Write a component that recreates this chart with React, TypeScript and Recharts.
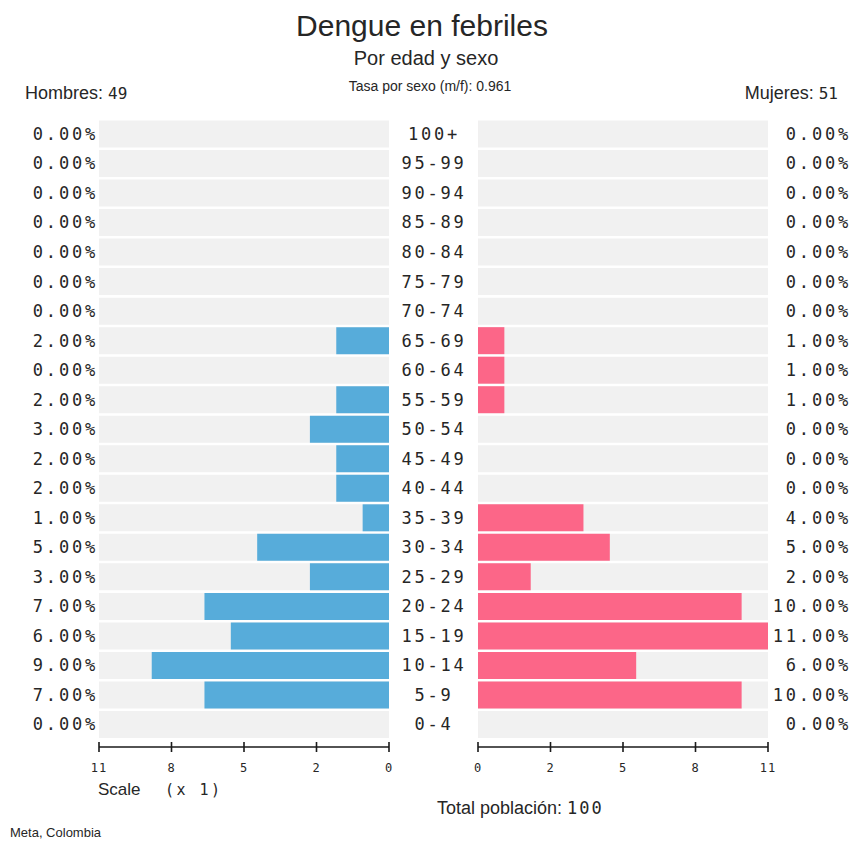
import React from 'react';
import { BarChart, Bar, XAxis, YAxis } from 'recharts';

// Age groups, top to bottom
const ageGroups = ['100+', '95-99', '90-94', '85-89', '80-84', '75-79', '70-74', '65-69', '60-64', '55-59', '50-54', '45-49', '40-44', '35-39', '30-34', '25-29', '20-24', '15-19', '10-14', '5-9', '0-4'];
const maleValues = [0, 0, 0, 0, 0, 0, 0, 2, 0, 2, 3, 2, 2, 1, 5, 3, 7, 6, 9, 7, 0];
const femaleValues = [0, 0, 0, 0, 0, 0, 0, 1, 1, 1, 0, 0, 0, 4, 5, 2, 10, 11, 6, 10, 0];
const axisTicks = [0, 2.75, 5.5, 8.25, 11];
const axisTickLabels = ['0', '2', '5', '8', '11'];
const axisMax = 11;

const data = ageGroups.map((age, i) => ({ age, male: maleValues[i], female: femaleValues[i] }));
const maleLabels: Record<string, string> = {};
const femaleLabels: Record<string, string> = {};
ageGroups.forEach((a, i) => {
  maleLabels[a] = maleValues[i].toFixed(2) + '%';
  femaleLabels[a] = femaleValues[i].toFixed(2) + '%';
});

const MONO = '"DejaVu Sans Mono", monospace';
const SANS = '"Liberation Sans", Arial, sans-serif';
const TXT = '#262626';
const BLUE = '#57acda';
const PINK = '#fc6688';
const BAND = '#f1f1f1';

const TOP = 119;
const PLOT_H = 628;
const XAXIS_H = 40;
const CH_H = TOP + PLOT_H + XAXIS_H;
const MONO_SIZE = 17;
const MONO_LS = '2.8px';

const LeftPctTick = (props: any) => {
  const { x, y, payload } = props;
  return (
    <text x={x - 1} y={y} dy="0.36em" textAnchor="end" fontFamily={MONO} fontSize={MONO_SIZE} fill={TXT} style={{ letterSpacing: MONO_LS }}>
      {maleLabels[payload.value]}
    </text>
  );
};

const RightPctTick = (props: any) => {
  const { x, y, payload } = props;
  return (
    <text x={x + 83} y={y} dy="0.36em" textAnchor="end" fontFamily={MONO} fontSize={MONO_SIZE} fill={TXT} style={{ letterSpacing: MONO_LS }}>
      {femaleLabels[payload.value]}
    </text>
  );
};

const AgeTick = (props: any) => {
  const { x, y, payload } = props;
  return (
    <text x={x + 45} y={y} dy="0.36em" textAnchor="middle" fontFamily={MONO} fontSize={MONO_SIZE} fill={TXT} style={{ letterSpacing: MONO_LS }}>
      {payload.value}
    </text>
  );
};

const ScaleTick = (props: any) => {
  const { x, y, payload } = props;
  const idx = axisTicks.indexOf(payload.value);
  return (
    <g>
      <line x1={x} x2={x} y1={y - 5} y2={y + 5} stroke="#1a1a1a" strokeWidth={1.6} />
      <text x={x} y={y + 25} textAnchor="middle" fontFamily={MONO} fontSize={12} fill={TXT} style={{ letterSpacing: '1px' }}>
        {axisTickLabels[idx]}
      </text>
    </g>
  );
};

export default function App() {
  return (
    <div style={{ position: 'absolute', left: 0, top: 0, width: 857, height: 842, background: '#fff', overflow: 'hidden' }}>
      <div style={{ position: 'absolute', left: 0, top: 0 }}>
        <BarChart layout="vertical" width={478} height={CH_H} data={data} margin={{ top: TOP, right: 0, bottom: 0, left: 0 }} barCategoryGap={1.5}>
          <XAxis type="number" domain={[0, axisMax]} reversed ticks={axisTicks} interval={0} height={XAXIS_H} tickSize={0} tickMargin={0} tickLine={false} axisLine={{ stroke: '#1a1a1a', strokeWidth: 1.6 }} tick={<ScaleTick />} allowDataOverflow />
          <YAxis yAxisId="pct" type="category" dataKey="age" orientation="left" width={99} padding={{ top: 0, bottom: 8 }} tickSize={0} tickMargin={0} tickLine={false} axisLine={false} tick={<LeftPctTick />} interval={0} />
          <YAxis yAxisId="age" type="category" dataKey="age" orientation="right" width={89} padding={{ top: 0, bottom: 8 }} tickSize={0} tickMargin={0} tickLine={false} axisLine={false} tick={<AgeTick />} interval={0} />
          <Bar yAxisId="pct" dataKey="male" fill={BLUE} background={{ fill: BAND }} minPointSize={0.01} isAnimationActive={false} />
        </BarChart>
      </div>
      <div style={{ position: 'absolute', left: 390, top: 0 }}>
        <BarChart layout="vertical" width={467} height={CH_H} data={data} margin={{ top: TOP, right: 0, bottom: 0, left: 88 }} barCategoryGap={1.5}>
          <XAxis type="number" domain={[0, axisMax]} ticks={axisTicks} interval={0} height={XAXIS_H} tickSize={0} tickMargin={0} tickLine={false} axisLine={{ stroke: '#1a1a1a', strokeWidth: 1.6 }} tick={<ScaleTick />} allowDataOverflow />
          <YAxis type="category" dataKey="age" orientation="right" width={89} padding={{ top: 0, bottom: 8 }} tickSize={0} tickMargin={0} tickLine={false} axisLine={false} tick={<RightPctTick />} interval={0} />
          <Bar dataKey="female" fill={PINK} background={{ fill: BAND }} minPointSize={0.01} isAnimationActive={false} />
        </BarChart>
      </div>
      <svg width={857} height={842} style={{ position: 'absolute', left: 0, top: 0, pointerEvents: 'none' }}>
        <text x={422} y={36} textAnchor="middle" fontFamily={SANS} fontSize={30} fill={TXT}>Dengue en febriles</text>
        <text x={426} y={65} textAnchor="middle" fontFamily={SANS} fontSize={20} fill={TXT}>Por edad y sexo</text>
        <text x={430} y={91} textAnchor="middle" fontFamily={SANS} fontSize={14} fill={TXT}>Tasa por sexo (m/f): 0.961</text>
        <text x={25} y={99} fontFamily={SANS} fontSize={18} fill={TXT}>
          Hombres: <tspan fontFamily={MONO} fontSize={16}>49</tspan>
        </text>
        <text x={838} y={99} textAnchor="end" fontFamily={SANS} fontSize={18} fill={TXT}>
          Mujeres: <tspan fontFamily={MONO} fontSize={16}>51</tspan>
        </text>
        <text x={98} y={795} fontFamily={SANS} fontSize={17} fill={TXT}>Scale</text>
        <text x={165} y={795} fontFamily={MONO} fontSize={15} fill={TXT} style={{ letterSpacing: '2.5px' }}>(x 1)</text>
        <text x={437} y={814} fontFamily={SANS} fontSize={18} fill={TXT}>
          Total población: <tspan fontFamily={MONO} fontSize={17} style={{ letterSpacing: '2px' }}>100</tspan>
        </text>
        <text x={10} y={837} fontFamily={SANS} fontSize={13} fill={TXT}>Meta, Colombia</text>
      </svg>
    </div>
  );
}
